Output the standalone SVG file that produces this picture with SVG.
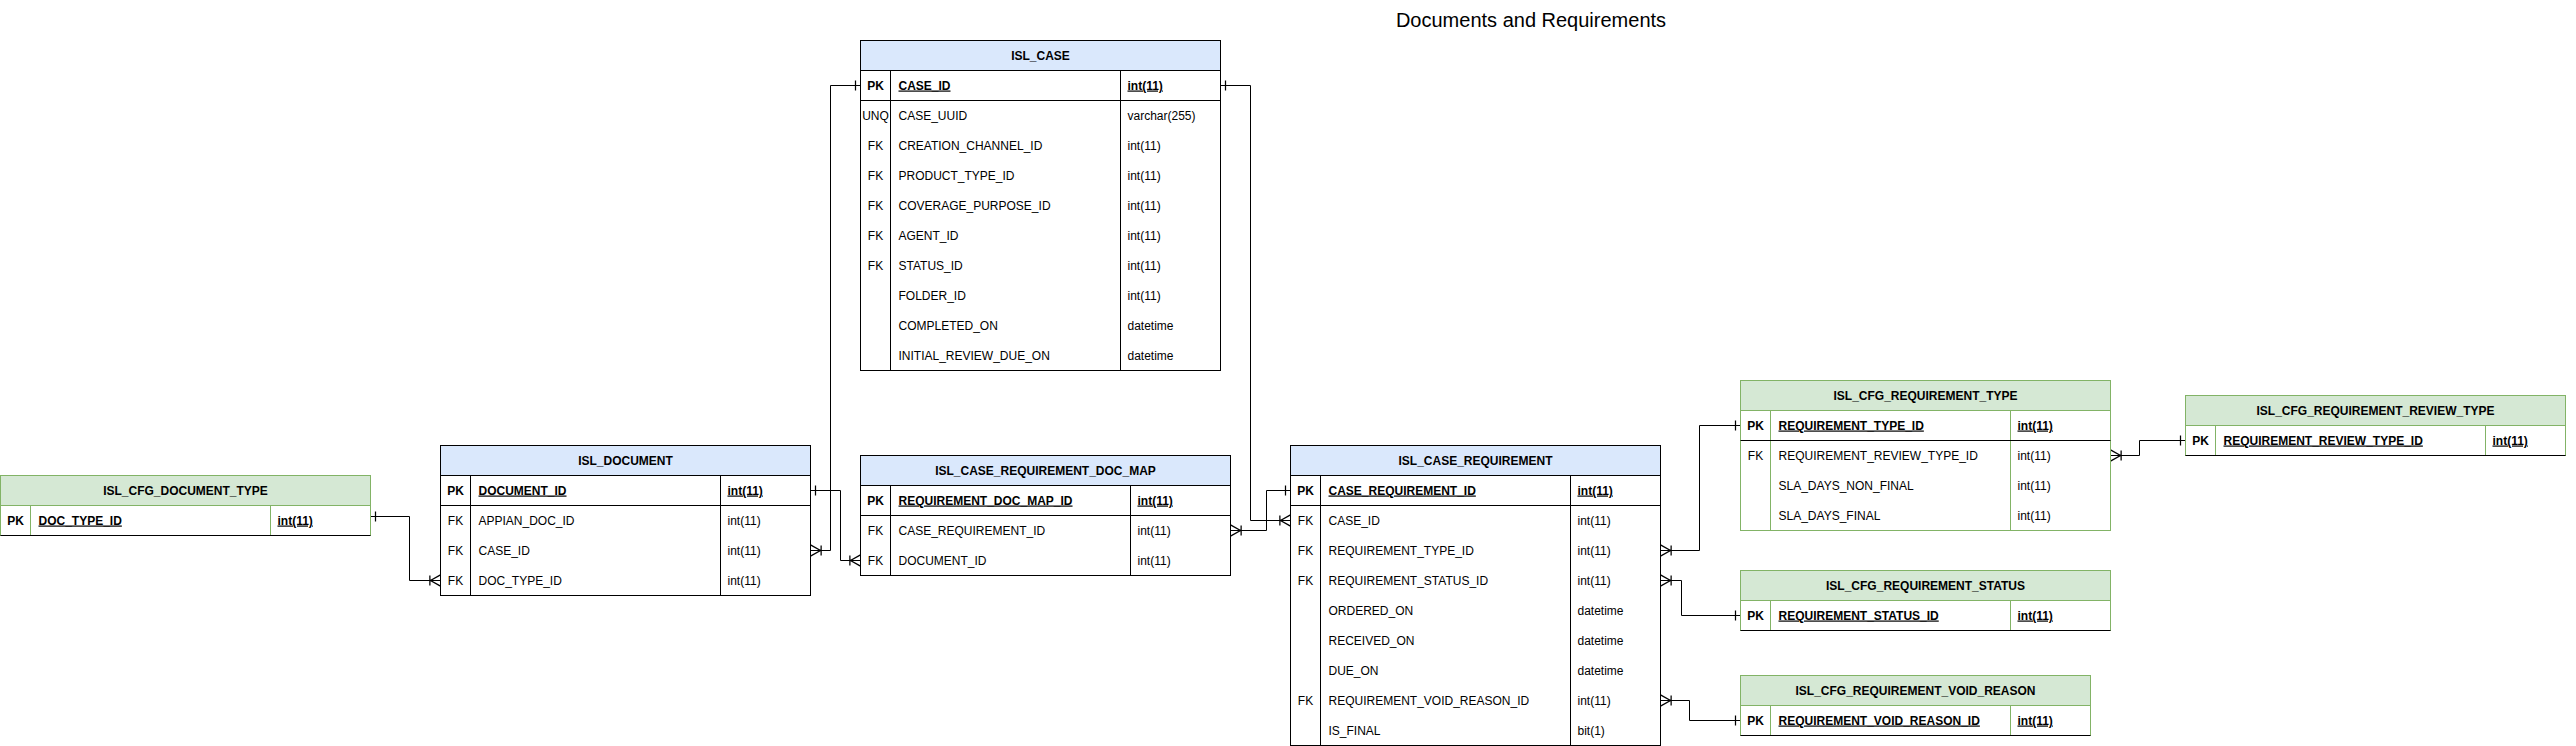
<svg xmlns="http://www.w3.org/2000/svg" width="2576" height="746" viewBox="0 0 2576 746">
<style>
text{font-family:"Liberation Sans",Arial,Helvetica,sans-serif;font-size:12px;fill:#000}
.title{font-size:20px;text-anchor:middle}
.hd{font-weight:bold;text-anchor:middle}
.k{text-anchor:middle}
.pk{font-weight:bold}
.u{font-weight:bold;text-decoration:underline}
.bh{fill:#dae8fc;stroke:#000;stroke-width:1}
.bb{fill:#fff;stroke:#000;stroke-width:1}
.gh{fill:#d5e8d4;stroke:#82b366;stroke-width:1}
.gb{fill:#fff;stroke:#82b366;stroke-width:1}
.bl{stroke:#000;stroke-width:1;fill:none}
.gl{stroke:#82b366;stroke-width:1;fill:none}
.edge{fill:none;stroke:#000;stroke-width:1;marker-start:url(#many);marker-end:url(#one)}
</style>
<defs>
<marker id="one" markerUnits="userSpaceOnUse" orient="auto-start-reverse" refX="0" refY="0" markerWidth="20" markerHeight="20" viewBox="-12 -8 14 16" overflow="visible">
<path d="M-4,-4 L-4,4" fill="none" stroke="#000" stroke-width="1"/>
</marker>
<marker id="many" markerUnits="userSpaceOnUse" orient="auto-start-reverse" refX="0" refY="0" markerWidth="20" markerHeight="20" viewBox="-12 -8 14 16" overflow="visible">
<path d="M0,-4.5 L-8,0 L0,4.5 M-8.5,-4 L-8.5,4" fill="none" stroke="#000" stroke-width="1"/>
</marker>
</defs>
<rect width="2576" height="746" fill="#fff"/>
<text class="title" x="1531" y="27">Documents and Requirements</text>

<g id="connectors">
<path class="edge" d="M440.5,580.5 H409.5 V516.5 H370.5"/>
<path class="edge" d="M810.5,550.5 H830.5 V85.5 H860.5"/>
<path class="edge" d="M860.5,560.5 H840.5 V490.5 H810.5"/>
<path class="edge" d="M1290.5,520.5 H1250.5 V85.5 H1220.5"/>
<path class="edge" d="M1230.5,530.5 H1266.5 V490.5 H1290.5"/>
<path class="edge" d="M1660.5,550.5 H1699.5 V425.5 H1740.5"/>
<path class="edge" d="M1660.5,580.5 H1681.5 V615.5 H1740.5"/>
<path class="edge" d="M1660.5,700.5 H1689.5 V720.5 H1740.5"/>
<path class="edge" d="M2110.5,455.5 H2139.5 V440.5 H2185.5"/>
</g>

<g id="ISL_CASE">
<rect class="bh" x="860.5" y="40.5" width="360" height="30"/>
<rect class="bb" x="860.5" y="70.5" width="360" height="300"/>
<path class="bl" d="M860.5,100.5 H1220.5 M890.5,70.5 V370.5 M1120.5,70.5 V370.5"/>
<text class="hd" x="1040.5" y="59.5">ISL_CASE</text>
<text class="k pk" x="875.5" y="89.5">PK</text><text class="u" x="898.5" y="89.5">CASE_ID</text><text class="u" x="1127.5" y="89.5">int(11)</text>
<text class="k" x="875.5" y="119.5">UNQ</text><text x="898.5" y="119.5">CASE_UUID</text><text x="1127.5" y="119.5">varchar(255)</text>
<text class="k" x="875.5" y="149.5">FK</text><text x="898.5" y="149.5">CREATION_CHANNEL_ID</text><text x="1127.5" y="149.5">int(11)</text>
<text class="k" x="875.5" y="179.5">FK</text><text x="898.5" y="179.5">PRODUCT_TYPE_ID</text><text x="1127.5" y="179.5">int(11)</text>
<text class="k" x="875.5" y="209.5">FK</text><text x="898.5" y="209.5">COVERAGE_PURPOSE_ID</text><text x="1127.5" y="209.5">int(11)</text>
<text class="k" x="875.5" y="239.5">FK</text><text x="898.5" y="239.5">AGENT_ID</text><text x="1127.5" y="239.5">int(11)</text>
<text class="k" x="875.5" y="269.5">FK</text><text x="898.5" y="269.5">STATUS_ID</text><text x="1127.5" y="269.5">int(11)</text>
<text x="898.5" y="299.5">FOLDER_ID</text><text x="1127.5" y="299.5">int(11)</text>
<text x="898.5" y="329.5">COMPLETED_ON</text><text x="1127.5" y="329.5">datetime</text>
<text x="898.5" y="359.5">INITIAL_REVIEW_DUE_ON</text><text x="1127.5" y="359.5">datetime</text>
</g>

<g id="ISL_CFG_DOCUMENT_TYPE">
<rect class="gh" x="0.5" y="475.5" width="370" height="30"/>
<rect class="gb" x="0.5" y="505.5" width="370" height="30"/>
<path class="gl" d="M30.5,505.5 V535.5 M270.5,505.5 V535.5"/>
<path class="bl" d="M0.5,535.5 H370.5"/>
<text class="hd" x="185.5" y="494.5">ISL_CFG_DOCUMENT_TYPE</text>
<text class="k pk" x="15.5" y="524.5">PK</text><text class="u" x="38.5" y="524.5">DOC_TYPE_ID</text><text class="u" x="277.5" y="524.5">int(11)</text>
</g>

<g id="ISL_DOCUMENT">
<rect class="bh" x="440.5" y="445.5" width="370" height="30"/>
<rect class="bb" x="440.5" y="475.5" width="370" height="120"/>
<path class="bl" d="M440.5,505.5 H810.5 M470.5,475.5 V595.5 M720.5,475.5 V595.5"/>
<text class="hd" x="625.5" y="464.5">ISL_DOCUMENT</text>
<text class="k pk" x="455.5" y="494.5">PK</text><text class="u" x="478.5" y="494.5">DOCUMENT_ID</text><text class="u" x="727.5" y="494.5">int(11)</text>
<text class="k" x="455.5" y="524.5">FK</text><text x="478.5" y="524.5">APPIAN_DOC_ID</text><text x="727.5" y="524.5">int(11)</text>
<text class="k" x="455.5" y="554.5">FK</text><text x="478.5" y="554.5">CASE_ID</text><text x="727.5" y="554.5">int(11)</text>
<text class="k" x="455.5" y="584.5">FK</text><text x="478.5" y="584.5">DOC_TYPE_ID</text><text x="727.5" y="584.5">int(11)</text>
</g>

<g id="ISL_CASE_REQUIREMENT_DOC_MAP">
<rect class="bh" x="860.5" y="455.5" width="370" height="30"/>
<rect class="bb" x="860.5" y="485.5" width="370" height="90"/>
<path class="bl" d="M860.5,515.5 H1230.5 M890.5,485.5 V575.5 M1130.5,485.5 V575.5"/>
<text class="hd" x="1045.5" y="474.5">ISL_CASE_REQUIREMENT_DOC_MAP</text>
<text class="k pk" x="875.5" y="504.5">PK</text><text class="u" x="898.5" y="504.5">REQUIREMENT_DOC_MAP_ID</text><text class="u" x="1137.5" y="504.5">int(11)</text>
<text class="k" x="875.5" y="534.5">FK</text><text x="898.5" y="534.5">CASE_REQUIREMENT_ID</text><text x="1137.5" y="534.5">int(11)</text>
<text class="k" x="875.5" y="564.5">FK</text><text x="898.5" y="564.5">DOCUMENT_ID</text><text x="1137.5" y="564.5">int(11)</text>
</g>

<g id="ISL_CASE_REQUIREMENT">
<rect class="bh" x="1290.5" y="445.5" width="370" height="30"/>
<rect class="bb" x="1290.5" y="475.5" width="370" height="270"/>
<path class="bl" d="M1290.5,505.5 H1660.5 M1320.5,475.5 V745.5 M1570.5,475.5 V745.5"/>
<text class="hd" x="1475.5" y="464.5">ISL_CASE_REQUIREMENT</text>
<text class="k pk" x="1305.5" y="494.5">PK</text><text class="u" x="1328.5" y="494.5">CASE_REQUIREMENT_ID</text><text class="u" x="1577.5" y="494.5">int(11)</text>
<text class="k" x="1305.5" y="524.5">FK</text><text x="1328.5" y="524.5">CASE_ID</text><text x="1577.5" y="524.5">int(11)</text>
<text class="k" x="1305.5" y="554.5">FK</text><text x="1328.5" y="554.5">REQUIREMENT_TYPE_ID</text><text x="1577.5" y="554.5">int(11)</text>
<text class="k" x="1305.5" y="584.5">FK</text><text x="1328.5" y="584.5">REQUIREMENT_STATUS_ID</text><text x="1577.5" y="584.5">int(11)</text>
<text x="1328.5" y="614.5">ORDERED_ON</text><text x="1577.5" y="614.5">datetime</text>
<text x="1328.5" y="644.5">RECEIVED_ON</text><text x="1577.5" y="644.5">datetime</text>
<text x="1328.5" y="674.5">DUE_ON</text><text x="1577.5" y="674.5">datetime</text>
<text class="k" x="1305.5" y="704.5">FK</text><text x="1328.5" y="704.5">REQUIREMENT_VOID_REASON_ID</text><text x="1577.5" y="704.5">int(11)</text>
<text x="1328.5" y="734.5">IS_FINAL</text><text x="1577.5" y="734.5">bit(1)</text>
</g>

<g id="ISL_CFG_REQUIREMENT_TYPE">
<rect class="gh" x="1740.5" y="380.5" width="370" height="30"/>
<rect class="gb" x="1740.5" y="410.5" width="370" height="120"/>
<path class="gl" d="M1770.5,410.5 V530.5 M2010.5,410.5 V530.5"/>
<path class="bl" d="M1740.5,440.5 H2110.5"/>
<text class="hd" x="1925.5" y="399.5">ISL_CFG_REQUIREMENT_TYPE</text>
<text class="k pk" x="1755.5" y="429.5">PK</text><text class="u" x="1778.5" y="429.5">REQUIREMENT_TYPE_ID</text><text class="u" x="2017.5" y="429.5">int(11)</text>
<text class="k" x="1755.5" y="459.5">FK</text><text x="1778.5" y="459.5">REQUIREMENT_REVIEW_TYPE_ID</text><text x="2017.5" y="459.5">int(11)</text>
<text x="1778.5" y="489.5">SLA_DAYS_NON_FINAL</text><text x="2017.5" y="489.5">int(11)</text>
<text x="1778.5" y="519.5">SLA_DAYS_FINAL</text><text x="2017.5" y="519.5">int(11)</text>
</g>

<g id="ISL_CFG_REQUIREMENT_STATUS">
<rect class="gh" x="1740.5" y="570.5" width="370" height="30"/>
<rect class="gb" x="1740.5" y="600.5" width="370" height="30"/>
<path class="gl" d="M1770.5,600.5 V630.5 M2010.5,600.5 V630.5"/>
<path class="bl" d="M1740.5,630.5 H2110.5"/>
<text class="hd" x="1925.5" y="589.5">ISL_CFG_REQUIREMENT_STATUS</text>
<text class="k pk" x="1755.5" y="619.5">PK</text><text class="u" x="1778.5" y="619.5">REQUIREMENT_STATUS_ID</text><text class="u" x="2017.5" y="619.5">int(11)</text>
</g>

<g id="ISL_CFG_REQUIREMENT_VOID_REASON">
<rect class="gh" x="1740.5" y="675.5" width="350" height="30"/>
<rect class="gb" x="1740.5" y="705.5" width="350" height="30"/>
<path class="gl" d="M1770.5,705.5 V735.5 M2010.5,705.5 V735.5"/>
<path class="bl" d="M1740.5,735.5 H2090.5"/>
<text class="hd" x="1915.5" y="694.5">ISL_CFG_REQUIREMENT_VOID_REASON</text>
<text class="k pk" x="1755.5" y="724.5">PK</text><text class="u" x="1778.5" y="724.5">REQUIREMENT_VOID_REASON_ID</text><text class="u" x="2017.5" y="724.5">int(11)</text>
</g>

<g id="ISL_CFG_REQUIREMENT_REVIEW_TYPE">
<rect class="gh" x="2185.5" y="395.5" width="380" height="30"/>
<rect class="gb" x="2185.5" y="425.5" width="380" height="30"/>
<path class="gl" d="M2215.5,425.5 V455.5 M2485.5,425.5 V455.5"/>
<path class="bl" d="M2185.5,455.5 H2565.5"/>
<text class="hd" x="2375.5" y="414.5">ISL_CFG_REQUIREMENT_REVIEW_TYPE</text>
<text class="k pk" x="2200.5" y="444.5">PK</text><text class="u" x="2223.5" y="444.5">REQUIREMENT_REVIEW_TYPE_ID</text><text class="u" x="2492.5" y="444.5">int(11)</text>
</g>
</svg>
